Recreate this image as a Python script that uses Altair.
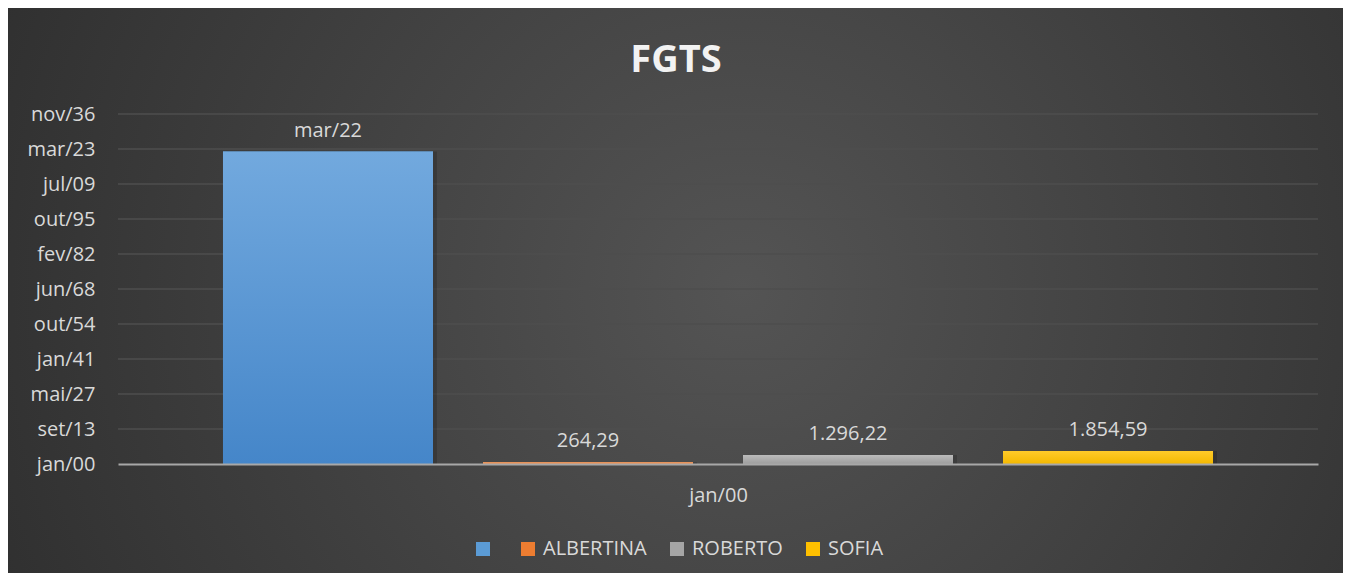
import json
import altair as alt
import pandas as pd

# ---- data ----
series = ["", "ALBERTINA", "ROBERTO", "SOFIA"]
values = [44630, 264.29, 1296.22, 1854.59]
value_labels = ["mar/22", "264,29", "1.296,22", "1.854,59"]
y_ticks = [0, 5000, 10000, 15000, 20000, 25000, 30000, 35000, 40000, 45000, 50000]
y_tick_labels = ["jan/00", "set/13", "mai/27", "jan/41", "out/54", "jun/68",
                 "fev/82", "out/95", "jul/09", "mar/23", "nov/36"]
category_label = "jan/00"
title_text = "FGTS"

solid_colors = ["#5b9bd5", "#ed7d31", "#a5a5a5", "#ffc000"]
gradient_stops = [("#72a9de", "#4586c9"), ("#f6a46c", "#ec8a4a"),
                  ("#bcbcbc", "#9d9d9d"), ("#ffcb2a", "#f4b800")]

FONT = "Open Sans"
TXT = "#d9d9d9"
W, H = 1200, 350
PL, PT, PR, PB = 110, 106, 25, 109

df = pd.DataFrame({"series": series, "value": values, "label": value_labels})
ticks_df = pd.DataFrame({"tick": y_ticks[1:]})
bg_df = pd.DataFrame({"a": [0]})

x_scale = alt.Scale(domain=series, paddingInner=0.1923, paddingOuter=0.4038)
y_scale = alt.Scale(domain=[0, 50000], nice=False)
label_expr = json.dumps(y_tick_labels) + "[round(datum.value / 5000)]"

y_axis = alt.Axis(values=y_ticks, labelExpr=label_expr, grid=False,
                  domain=False, ticks=False, labelFont=FONT,
                  labelFontSize=20, labelColor=TXT, labelPadding=23,
                  title=None, zindex=2)

background = alt.Chart(bg_df).mark_rect(
    color=alt.RadialGradient(
        gradient="radial",
        stops=[alt.GradientStop(offset=0, color="#545454"),
               alt.GradientStop(offset=1, color="#252525")],
        x1=0.55, y1=0.5, r1=0, x2=0.55, y2=0.5, r2=0.78,
    )
).encode(
    x=alt.value(-PL), x2=alt.value(W + PR),
    y=alt.value(-PT), y2=alt.value(H + PB),
)

grid = alt.Chart(ticks_df).mark_rule(color="#4e4e4e", strokeWidth=1.4).encode(
    y=alt.Y("tick:Q", scale=y_scale, axis=y_axis)
)

x_enc = alt.X("series:N", scale=x_scale, sort=series,
              axis=alt.Axis(labels=False, ticks=False, domain=True,
                            domainColor="#a8a8a8", domainWidth=2,
                            title=category_label, titleFont=FONT,
                            titleFontSize=20, titleFontWeight="normal",
                            titleColor=TXT, titlePadding=21, zindex=2))
y_enc = alt.Y("value:Q", scale=y_scale, axis=y_axis)

shadow = alt.Chart(df).mark_bar(color="black", opacity=0.16, xOffset=4).encode(
    x=x_enc, y=y_enc)

legend_bars = alt.Chart(df).mark_bar().encode(
    x=x_enc, y=y_enc,
    color=alt.Color("series:N", sort=series,
                    scale=alt.Scale(domain=series, range=solid_colors),
                    legend=alt.Legend(orient="none", legendX=355, legendY=425,
                                      direction="horizontal", title=None,
                                      symbolType="square", symbolSize=196,
                                      symbolStrokeWidth=0, labelFont=FONT,
                                      labelFontSize=20, labelColor=TXT,
                                      labelOffset=5, columnPadding=20,
                                      padding=0, labelLimit=400)),
)

grad_layers = []
for s, (c1, c2) in zip(series, gradient_stops):
    grad_layers.append(
        alt.Chart(df).transform_filter(alt.datum.series == s).mark_bar(
            color=alt.LinearGradient(
                gradient="linear",
                stops=[alt.GradientStop(offset=0, color=c1),
                       alt.GradientStop(offset=1, color=c2)],
                x1=0, y1=0, x2=0, y2=1,
            )
        ).encode(x=x_enc, y=y_enc)
    )

texts = alt.Chart(df).mark_text(dy=-15, baseline="alphabetic", font=FONT,
                                fontSize=20, color=TXT).encode(
    x=x_enc, y=y_enc, text="label:N")

chart = alt.layer(background, grid, shadow, legend_bars, *grad_layers, texts).properties(
    width=W, height=H,
    title=alt.TitleParams(title_text, font=FONT, fontSize=38, fontWeight="bold",
                          color="#f2f2f2", anchor="middle", frame="group",
                          dx=-42, dy=104, offset=32),
    autosize=alt.AutoSizeParams(type="none"),
    padding={"left": PL, "top": PT, "right": PR, "bottom": PB},
    background="#2a2a2a",
).configure_view(stroke=None)

chart.save("out.html", embed_options={"renderer": "svg", "actions": False})
